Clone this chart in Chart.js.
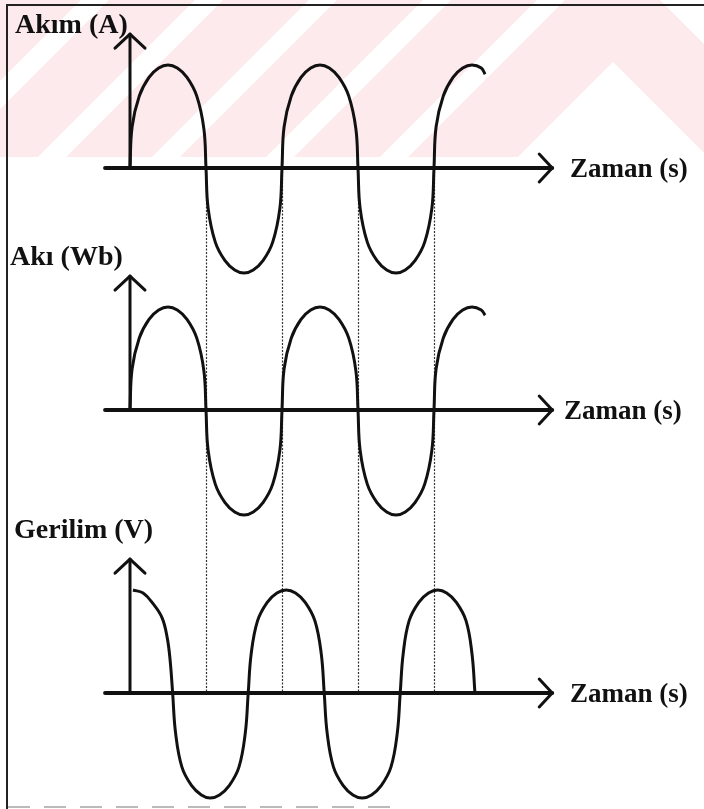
<!DOCTYPE html>
<html>
<head>
<meta charset="utf-8">
<script src="https://cdn.jsdelivr.net/npm/chart.js@4"></script>
<style>
  html, body { margin: 0; padding: 0; background: #fff; }
  #wrap { width: 704px; height: 809px; position: relative; }
</style>
</head>
<body>
<div id="wrap"><canvas id="waveChart"></canvas></div>
<script>
// time axis in electrical degrees, amplitudes normalised to the peak
const akimDeg = [0, 5, 22, 45, 68, 90, 112, 135, 158, 175, 180,
  185, 202, 225, 248, 270, 292, 315, 338, 355, 360,
  365, 382, 405, 428, 450, 472, 495, 518, 535, 540,
  545, 562, 585, 608, 630, 652, 675, 698, 715, 720,
  725, 742, 765, 788, 810, 832, 841];
const akimVal = [0, .40, .70, .88, .97, 1, .97, .88, .70, .38, 0,
  -.39, -.72, -.90, -.99, -1.02, -.99, -.90, -.72, -.39, 0,
  .40, .70, .88, .97, 1, .97, .88, .70, .38, 0,
  -.39, -.72, -.90, -.99, -1.02, -.99, -.90, -.72, -.39, 0,
  .40, .70, .88, .97, 1, .97, .91];

const akiDeg = [0, 5, 22, 45, 68, 90, 112, 135, 158, 175, 180,
  185, 202, 225, 248, 270, 292, 315, 338, 355, 360,
  365, 382, 405, 428, 450, 472, 495, 518, 535, 540,
  545, 562, 585, 608, 630, 652, 675, 698, 715, 720,
  725, 742, 765, 788, 810, 832, 841];
const akiVal = [0, .40, .70, .88, .97, 1, .97, .88, .70, .38, 0,
  -.39, -.72, -.90, -.99, -1.02, -.99, -.90, -.72, -.39, 0,
  .40, .70, .88, .97, 1, .97, .88, .70, .38, 0,
  -.39, -.72, -.90, -.99, -1.02, -.99, -.90, -.72, -.39, 0,
  .40, .70, .88, .97, 1, .97, .92];

const gerilimDeg = [7, 31, 54, 76, 88, 95, 101,
  108, 123, 146, 169, 190, 212, 235, 258, 273, 280,
  287, 302, 325, 348, 370, 392, 415, 438, 453, 460,
  467, 482, 505, 528, 550, 572, 595, 618, 633, 640,
  647, 661, 684, 707, 729, 750, 773, 796, 810, 817];
const gerilimVal = [1.0, .97, .87, .73, .54, .32, 0,
  -.39, -.72, -.90, -.99, -1.02, -.99, -.90, -.72, -.39, 0,
  .38, .70, .88, .97, 1, .97, .88, .70, .38, 0,
  -.39, -.72, -.90, -.99, -1.02, -.99, -.90, -.72, -.39, 0,
  .38, .70, .88, .97, 1, .97, .88, .70, .38, 0];

const panelLabels = ["Akım (A)", "Akı (Wb)", "Gerilim (V)"];
const timeLabel = "Zaman (s)";
const guideDeg = [180, 360, 540, 720];   // dotted guide lines

const toPoints = (xs, ys) => xs.map((x, i) => ({ x: x, y: ys[i] }));

const lineStyle = {
  borderColor: "#111",
  borderWidth: 3,
  pointRadius: 0,
  fill: false,
  tension: 0.4
};

// pink watermark band across the top of the scan
const watermark = {
  id: "watermark",
  beforeDraw(chart) {
    const c = chart.ctx;
    c.save();
    c.fillStyle = "#fff";
    c.fillRect(0, 0, chart.width, chart.height);
    c.fillStyle = "#fdeaed";
    c.fillRect(0, 0, 704, 157);
    c.fillStyle = "#fff";
    [-76, 38, 152, 266, 380].forEach(b => {
      c.beginPath();
      c.moveTo(b, 157);
      c.lineTo(b + 28, 157);
      c.lineTo(b + 28 + 157, 0);
      c.lineTo(b + 157, 0);
      c.closePath();
      c.fill();
    });
    c.beginPath();
    c.moveTo(613, 62);
    c.lineTo(708, 157);
    c.lineTo(518, 157);
    c.closePath();
    c.fill();
    c.beginPath();
    c.moveTo(660, 0);
    c.lineTo(704, 0);
    c.lineTo(704, 44);
    c.closePath();
    c.fill();
    c.restore();
  }
};

// axes with open arrow heads, guide lines, labels and frame
const figureAxes = {
  id: "figureAxes",
  beforeDatasetsDraw(chart) {
    const c = chart.ctx;
    const xs = chart.scales.x;
    const ids = ["y1", "y2", "y3"];
    const x0 = xs.getPixelForValue(0);
    const xStart = xs.getPixelForValue(-59);
    const xEnd = xs.getPixelForValue(1000);
    c.save();

    // dotted guides from the first to the last time axis
    const top = chart.scales.y1.getPixelForValue(0);
    const bot = chart.scales.y3.getPixelForValue(0);
    c.strokeStyle = "#333";
    c.lineWidth = 1.2;
    c.setLineDash([2, 1.5]);
    guideDeg.forEach(d => {
      const px = Math.round(xs.getPixelForValue(d)) + 0.5;
      c.beginPath();
      c.moveTo(px, top);
      c.lineTo(px, bot);
      c.stroke();
    });
    c.setLineDash([]);

    c.strokeStyle = "#111";
    c.lineCap = "round";
    c.lineJoin = "round";
    ids.forEach((id, i) => {
      const ys = chart.scales[id];
      const y0 = ys.getPixelForValue(0);
      const yTip = ys.getPixelForValue(1.3);

      c.lineWidth = 4;
      c.beginPath();
      c.moveTo(xStart, y0);
      c.lineTo(xEnd, y0);
      c.stroke();
      c.lineWidth = 3;
      c.beginPath();
      c.moveTo(xEnd - 13, y0 - 14);
      c.lineTo(xEnd, y0);
      c.lineTo(xEnd - 13, y0 + 14);
      c.stroke();

      c.beginPath();
      c.moveTo(x0, y0);
      c.lineTo(x0, yTip);
      c.stroke();
      c.beginPath();
      c.moveTo(x0 - 15, yTip + 14);
      c.lineTo(x0, yTip);
      c.lineTo(x0 + 15, yTip + 14);
      c.stroke();
    });
    c.restore();
  },
  afterDraw(chart) {
    const c = chart.ctx;
    const labelPos = [[15, 33], [10, 265], [14, 538]];
    c.save();
    c.fillStyle = "#111";
    c.textBaseline = "alphabetic";
    c.font = "bold 28px 'Liberation Serif', 'DejaVu Serif', serif";
    panelLabels.forEach((t, i) => c.fillText(t, labelPos[i][0], labelPos[i][1]));
    c.font = "bold 27px 'Liberation Serif', 'DejaVu Serif', serif";
    [["y1", 570], ["y2", 564], ["y3", 570]].forEach(([id, lx]) => {
      c.fillText(timeLabel, lx, chart.scales[id].getPixelForValue(0) + 9);
    });

    // frame of the scanned figure
    c.strokeStyle = "#222";
    c.lineWidth = 2;
    c.beginPath();
    c.moveTo(704, 5);
    c.lineTo(7, 5);
    c.lineTo(7, 809);
    c.stroke();
    c.strokeStyle = "#bbb";
    c.setLineDash([22, 14]);
    c.beginPath();
    c.moveTo(8, 807);
    c.lineTo(400, 807);
    c.stroke();
    c.restore();
  }
};

new Chart(document.getElementById("waveChart"), {
  type: "line",
  data: {
    datasets: [
      Object.assign({ label: panelLabels[0], data: toPoints(akimDeg, akimVal), yAxisID: "y1" }, lineStyle),
      Object.assign({ label: panelLabels[1], data: toPoints(akiDeg, akiVal), yAxisID: "y2" }, lineStyle),
      Object.assign({ label: panelLabels[2], data: toPoints(gerilimDeg, gerilimVal), yAxisID: "y3" }, lineStyle)
    ]
  },
  options: {
    responsive: true,
    maintainAspectRatio: false,
    animation: false,
    events: [],
    layout: { padding: 0 },
    plugins: { legend: { display: false }, tooltip: { enabled: false } },
    scales: {
      x: { type: "linear", display: false, min: -307.9, max: 1359.5 },
      y1: { type: "linear", display: false, min: -6.2233, max: 1.6311 },
      y2: { type: "linear", display: false, min: -3.8738, max: 3.9806 },
      y3: { type: "linear", display: false, min: -1.1262, max: 6.7282 }
    }
  },
  plugins: [watermark, figureAxes]
});
</script>
</body>
</html>
